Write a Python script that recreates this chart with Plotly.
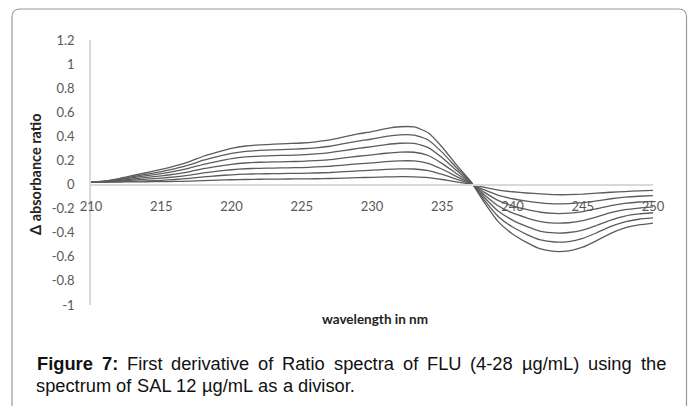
import plotly.graph_objects as go

wavelength = list(range(210, 251))

flu_28 = [0.02, 0.03, 0.05, 0.075, 0.10, 0.125, 0.155, 0.19, 0.235, 0.27, 0.30, 0.32, 0.33, 0.335,
          0.34, 0.345, 0.355, 0.37, 0.395, 0.42, 0.44, 0.465, 0.48, 0.478, 0.43, 0.31, 0.165, 0.03,
          -0.15, -0.31, -0.41, -0.48, -0.535, -0.555, -0.55, -0.52, -0.465, -0.405, -0.36, -0.335, -0.32]
flu_24 = [0.02, 0.028, 0.045, 0.066, 0.087, 0.108, 0.133, 0.163, 0.202, 0.232, 0.258, 0.275, 0.284, 0.288,
          0.292, 0.297, 0.305, 0.318, 0.34, 0.361, 0.378, 0.40, 0.413, 0.411, 0.37, 0.267, 0.142, 0.026,
          -0.129, -0.267, -0.353, -0.413, -0.46, -0.477, -0.473, -0.447, -0.40, -0.348, -0.31, -0.288, -0.277]
flu_20 = [0.02, 0.026, 0.04, 0.057, 0.074, 0.091, 0.111, 0.136, 0.168, 0.193, 0.215, 0.229, 0.236, 0.24,
          0.243, 0.247, 0.254, 0.265, 0.282, 0.30, 0.315, 0.332, 0.343, 0.342, 0.307, 0.222, 0.118, 0.021,
          -0.107, -0.222, -0.295, -0.347, -0.388, -0.402, -0.398, -0.378, -0.338, -0.295, -0.262, -0.244, -0.234]
flu_16 = [0.02, 0.024, 0.034, 0.046, 0.059, 0.072, 0.087, 0.106, 0.132, 0.151, 0.168, 0.179, 0.185, 0.188,
          0.19, 0.193, 0.199, 0.207, 0.221, 0.235, 0.246, 0.26, 0.269, 0.268, 0.241, 0.174, 0.092, 0.017,
          -0.086, -0.178, -0.236, -0.276, -0.308, -0.32, -0.317, -0.3, -0.268, -0.234, -0.209, -0.195, -0.186]
flu_12 = [0.02, 0.022, 0.028, 0.036, 0.045, 0.053, 0.064, 0.078, 0.096, 0.111, 0.123, 0.131, 0.135, 0.137,
          0.139, 0.141, 0.146, 0.152, 0.162, 0.172, 0.18, 0.191, 0.197, 0.196, 0.176, 0.127, 0.068, 0.012,
          -0.065, -0.133, -0.177, -0.207, -0.23, -0.24, -0.238, -0.225, -0.201, -0.175, -0.156, -0.145, -0.139]
flu_8 = [0.02, 0.021, 0.024, 0.027, 0.031, 0.035, 0.042, 0.051, 0.063, 0.073, 0.081, 0.086, 0.089, 0.09,
         0.092, 0.093, 0.096, 0.10, 0.107, 0.113, 0.119, 0.126, 0.13, 0.129, 0.116, 0.084, 0.045, 0.008,
         -0.045, -0.09, -0.118, -0.138, -0.152, -0.16, -0.158, -0.15, -0.135, -0.118, -0.105, -0.097, -0.092]
flu_4 = [0.02, 0.02, 0.021, 0.022, 0.023, 0.024, 0.026, 0.028, 0.032, 0.036, 0.04, 0.042, 0.044, 0.045,
         0.046, 0.047, 0.048, 0.05, 0.053, 0.057, 0.06, 0.063, 0.065, 0.064, 0.058, 0.042, 0.022, 0.004,
         -0.024, -0.046, -0.06, -0.07, -0.078, -0.084, -0.084, -0.08, -0.072, -0.064, -0.058, -0.052, -0.048]

series = {"28": flu_28, "24": flu_24, "20": flu_20, "16": flu_16, "12": flu_12, "8": flu_8, "4": flu_4}

x_ticks = [210, 215, 220, 225, 230, 235, 240, 245, 250]
y_ticks = [1.2, 1, 0.8, 0.6, 0.4, 0.2, 0, -0.2, -0.4, -0.6, -0.8, -1]
y_labels = ["1.2", "1", "0.8", "0.6", "0.4", "0.2", "0", "-0.2", "-0.4", "-0.6", "-0.8", "-1"]

caption_line1 = [("Figure", True), ("7:", True), ("First", False), ("derivative", False), ("of", False),
                 ("Ratio", False), ("spectra", False), ("of", False), ("FLU", False), ("(4-28", False),
                 ("µg/mL)", False), ("using", False), ("the", False)]
caption_line2 = [("spectrum", False), ("of", False), ("SAL", False), ("12", False), ("µg/mL", False),
                 ("as", False), ("a", False), ("divisor.", False)]

W, H = 688, 406
L, R, T, B = 91, 35, 40, 101
pw, ph = W - L - R, H - T - B


def px(xp):
    return (xp - L) / pw


def py(yp):
    return (H - B - yp) / ph


# Arial / Liberation Sans advance widths (per 1000 em), used to justify the caption words
REG = {" ": 278, "a": 556, "c": 500, "d": 556, "e": 556, "f": 278, "g": 556, "h": 556, "i": 222,
       "l": 222, "m": 833, "n": 556, "o": 556, "p": 556, "r": 333, "s": 500, "t": 278, "u": 556,
       "v": 500, "L": 556, "R": 722, "F": 611, "U": 722, "S": 667, "A": 667, "(": 333, ")": 333,
       "-": 333, "1": 556, "2": 556, "4": 556, "8": 556, "µ": 576, "/": 278, ".": 278, ":": 278}
BOLD = {"F": 611, "i": 278, "g": 611, "u": 611, "r": 389, "e": 556, "7": 556, ":": 333, " ": 278}


def word_width(word, bold, size):
    table = BOLD if bold else REG
    return sum(table.get(ch, 556) for ch in word) * size / 1000.0


fig = go.Figure()
for name, vals in series.items():
    fig.add_trace(go.Scatter(x=wavelength, y=vals, mode="lines", name=name,
                             line=dict(color="#5c5c5c", width=1.3, shape="spline", smoothing=0.5),
                             showlegend=False, hoverinfo="skip"))

tick_font = dict(family="Lato, Open Sans, sans-serif", size=13, color="#595959")

fig.update_layout(
    width=W, height=H,
    margin=dict(l=L, r=R, t=T, b=B),
    paper_bgcolor="white", plot_bgcolor="white",
    xaxis=dict(range=[210, 250], tickvals=x_ticks, ticktext=[str(v) for v in x_ticks],
               showgrid=False, zeroline=False, showline=True, linecolor="#d9d9d9", linewidth=1.5,
               anchor="free", position=(0 - (-1)) / 2.2, ticks="", ticklabelstandoff=10,
               tickfont=tick_font),
    yaxis=dict(range=[-1, 1.2], tickvals=y_ticks, ticktext=y_labels,
               showgrid=False, zeroline=False, showline=True, linecolor="#d9d9d9", linewidth=1.5,
               ticks="", ticklabelstandoff=12, tickfont=tick_font),
)

# outer rounded frame
x0, x1 = px(12), px(686.5)
y1, y0 = py(9), py(430)
rx, ry = 8 / pw, 8 / ph
path = (f"M {x0},{y0} L {x0},{y1 - ry} Q {x0},{y1} {x0 + rx},{y1} "
        f"L {x1 - rx},{y1} Q {x1},{y1} {x1},{y1 - ry} L {x1},{y0}")
fig.add_shape(type="path", path=path, xref="paper", yref="paper",
              line=dict(color="#9a9a9a", width=1.2), layer="below")

title_font = dict(family="Lato, Open Sans, sans-serif", size=13.5, color="#222")
fig.add_annotation(text="<b>wavelength in nm</b>", x=px(375), y=py(319), xref="paper", yref="paper",
                   xanchor="center", yanchor="middle", showarrow=False, font=title_font)
fig.add_annotation(text="<b>Δ absorbance ratio</b>", x=px(35), y=py(175), xref="paper", yref="paper",
                   xanchor="center", yanchor="middle", showarrow=False, textangle=-90,
                   font=dict(family="Lato, Open Sans, sans-serif", size=14.5, color="#222"))

CAP_SIZE = 18.3
cap_font = dict(family="Liberation Sans, Arial, sans-serif", size=CAP_SIZE, color="#111")
space = REG[" "] * CAP_SIZE / 1000.0


def place_line(words, x_start, yc, x_end=None):
    widths = [word_width(w, b, CAP_SIZE) for w, b in words]
    gap = space
    if x_end is not None:
        gap = (x_end - x_start - sum(widths)) / (len(words) - 1)
    xcur = x_start
    for (w, b), wd in zip(words, widths):
        fig.add_annotation(text=f"<b>{w}</b>" if b else w, x=px(xcur), y=py(yc),
                           xref="paper", yref="paper", xanchor="left", yanchor="middle",
                           showarrow=False, borderpad=0, font=cap_font)
        xcur += wd + gap


place_line(caption_line1, 36, 363, x_end=665)
place_line(caption_line2, 35, 385)

fig.write_html("out.html")
